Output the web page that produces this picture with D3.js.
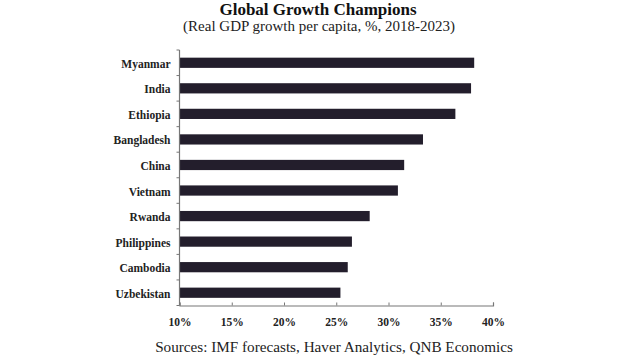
<!DOCTYPE html>
<html><head><meta charset="utf-8">
<script src="https://cdn.jsdelivr.net/npm/d3@7"></script>
<style>body{margin:0;background:#fff;} svg{display:block;}</style>
</head><body>
<svg id="c" width="620" height="355"></svg>
<script>
const countries = ["Myanmar","India","Ethiopia","Bangladesh","China","Vietnam","Rwanda","Philippines","Cambodia","Uzbekistan"];
const growth = [38.2, 37.9, 36.4, 33.3, 31.5, 30.9, 28.2, 26.5, 26.1, 25.4];
const xTicks = [10, 15, 20, 25, 30, 35, 40];
const titleText = "Global Growth Champions";
const subtitleText = "(Real GDP growth per capita, %, 2018-2023)";
const sourceText = "Sources: IMF forecasts, Haver Analytics, QNB Economics";

(function(){
const svg = d3.select("#c");
const font = "'Liberation Serif','Times New Roman',serif";
const pLeft = 179.5, pRight = 493, pTop = 50, pBottom = 305.5;

const x = d3.scaleLinear().domain([10, 40]).range([pLeft, pRight]);
const y = d3.scaleBand().domain(countries).range([pTop, pBottom]).paddingInner(0.6).paddingOuter(0.3);

svg.append("text").attr("x", 318).attr("y", 15).attr("text-anchor","middle")
  .attr("font-family", font).attr("font-weight","bold").attr("font-size", 17).attr("fill","#111").text(titleText);
svg.append("text").attr("x", 319).attr("y", 30.5).attr("text-anchor","middle")
  .attr("font-family", font).attr("font-size", 15).attr("fill","#222").text(subtitleText);

const data = countries.map((c,i)=>({c, v: growth[i]}));
svg.append("g").selectAll("rect").data(data).join("rect")
  .attr("x", x(10)).attr("y", d=>y(d.c))
  .attr("width", d=>x(d.v)-x(10)).attr("height", y.bandwidth())
  .attr("fill", "#231e2c");

const yAxisBand = d3.scaleBand().domain(countries).range([pTop, pBottom]);
const gy = svg.append("g").attr("transform", `translate(${pLeft},0)`);
gy.append("line").attr("x1",0).attr("x2",0).attr("y1",pTop).attr("y2",pBottom).attr("stroke","#777").attr("stroke-width",1.2);
gy.selectAll("line.t").data(countries.concat(["_end"])).join("line").attr("class","t")
  .attr("x1",-3).attr("x2",0)
  .attr("y1",(d,i)=> i<countries.length ? yAxisBand(d) : pBottom)
  .attr("y2",(d,i)=> i<countries.length ? yAxisBand(d) : pBottom)
  .attr("stroke","#777");
gy.selectAll("text").data(countries).join("text")
  .attr("x",-9).attr("y", d=>yAxisBand(d)+yAxisBand.bandwidth()/2+1)
  .attr("dy","0.35em").attr("text-anchor","end")
  .attr("font-family", font).attr("font-weight","bold").attr("font-size",11.5).attr("fill","#222")
  .text(d=>d);

const xAxis = d3.axisBottom(x).tickValues(xTicks).tickSize(-3).tickFormat(d=>d+"%");
const gx = svg.append("g").attr("transform", `translate(0,${pBottom})`).call(xAxis);
gx.select(".domain").attr("stroke","#777").attr("stroke-width",1.2);
gx.selectAll(".tick line").attr("stroke","#777");
gx.selectAll(".tick text").attr("y",12).attr("font-family",font).attr("font-weight","bold").attr("font-size",11.5).attr("fill","#222");

svg.append("text").attr("x", 334).attr("y", 351.5).attr("text-anchor","middle")
  .attr("font-family", font).attr("font-size", 15.2).attr("fill","#222").text(sourceText);
})();
</script>
</body></html>
